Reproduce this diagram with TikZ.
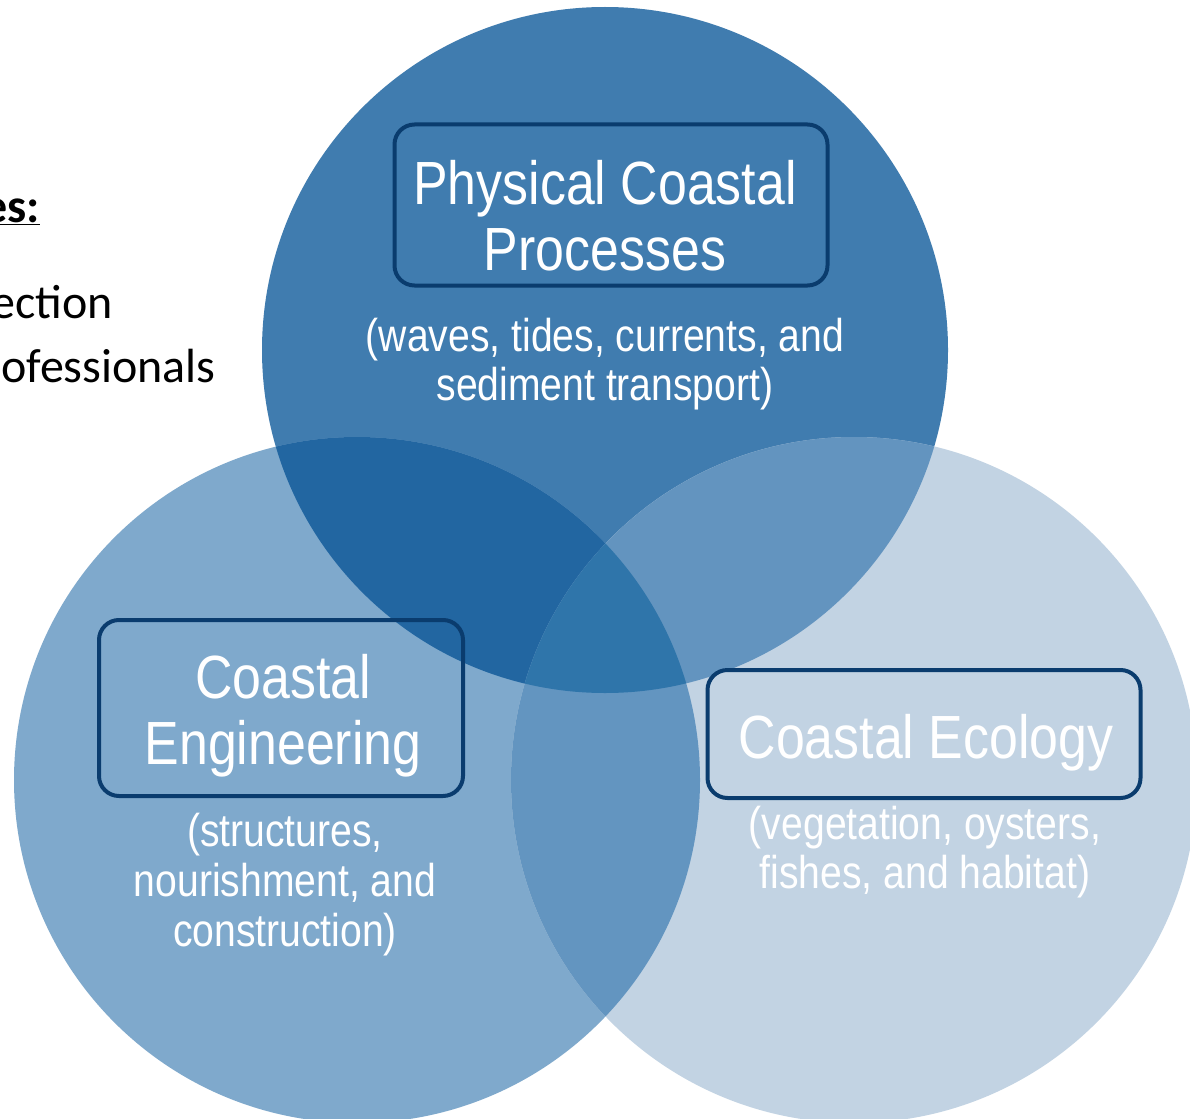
\documentclass[tikz,border=0pt]{standalone}
\usepackage{fontspec}
\newfontfamily\vennfont[FakeStretch=0.85]{Liberation Sans}
\newfontfamily\sidefont{Carlito}
\usetikzlibrary{positioning}
\definecolor{physblue}{HTML}{407CAF}
\definecolor{engblue}{HTML}{7FA9CC}
\definecolor{ecoblue}{HTML}{C2D3E3}
\definecolor{physeng}{HTML}{2266A1}
\definecolor{physeco}{HTML}{6394BF}
\definecolor{engeco}{HTML}{6395C0}
\definecolor{allblue}{HTML}{2F75AA}
\definecolor{boxnavy}{HTML}{0A3C6E}

\begin{document}
\begin{tikzpicture}[x=1pt,y=-1pt,every node/.style={inner sep=0},
  titlebox/.style={draw=boxnavy,line width=4pt,rounded corners=20pt},
  title/.style={align=center,text=white,font=\vennfont\fontsize{61}{66}\selectfont},
  subtext/.style={align=center,text=white,font=\vennfont\fontsize{46}{49}\selectfont},
  sidetext/.style={anchor=base east,font=\sidefont\fontsize{48}{52}\selectfont}]
\fill[white] (0,0) rectangle (1190,1118);
\useasboundingbox (0,0) rectangle (1190,1118);

\coordinate (phys) at (605,350);
\coordinate (eng) at (357,780);
\coordinate (eco) at (854,780);

\fill[physblue] (phys) circle (343pt);
\fill[engblue] (eng) circle (343pt);
\fill[ecoblue] (eco) circle (343pt);
\begin{scope}
  \clip (phys) circle (343pt);
  \fill[physeng] (eng) circle (343pt);
  \fill[physeco] (eco) circle (343pt);
\end{scope}
\begin{scope}
  \clip (eng) circle (343pt);
  \fill[engeco] (eco) circle (343pt);
  \clip (eco) circle (343pt);
  \fill[allblue] (phys) circle (343pt);
\end{scope}

\node[sidetext] (audience) at (40,222) {\bfseries\underline{es:}};
\node[sidetext] (section) at (113,318) {ection};
\node[sidetext] (profs) at (216,382) {ofessionals};

\node[titlebox,minimum width=433pt,minimum height=161pt] (physbox) at (611,205) {};
\node[title] (phystitle) at (605,216) {Physical Coastal\\Processes};
\node[subtext] (physsub) at (605,364) {(waves, tides, currents, and\\sediment transport)};

\node[titlebox,minimum width=364pt,minimum height=176pt] (engbox) at (281,708) {};
\node[title] (engtitle) at (283,716) {Coastal\\Engineering};
\node[subtext,font=\vennfont\fontsize{46}{50}\selectfont] (engsub) at (285,885) {(structures,\\nourishment, and\\construction)};

\node[titlebox,minimum width=433pt,minimum height=128pt] (ecobox) at (924,734) {};
\node[title] (ecotitle) at (926,743) {Coastal Ecology};
\node[subtext] (ecosub) at (925,852) {(vegetation, oysters,\\fishes, and habitat)};
\end{tikzpicture}
\end{document}
